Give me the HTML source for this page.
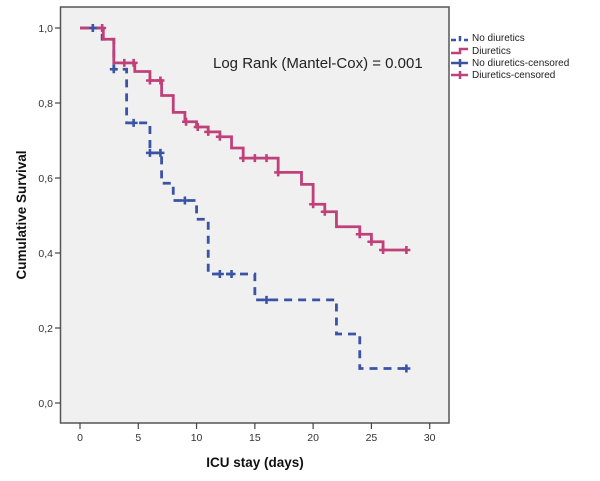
<!DOCTYPE html>
<html><head><meta charset="utf-8"><style>
body{margin:0;background:#fff;font-family:"Liberation Sans",Arial,sans-serif}
svg{display:block}
</style></head><body>
<svg id="chart" width="600" height="481" xmlns="http://www.w3.org/2000/svg">
<rect x="60.5" y="7" width="388.5" height="416" fill="#f0f0f0" stroke="#555" stroke-width="1.5"/>
<g id="axes"></g>
<g id="series"></g>
<text x="255" y="467" font-size="13.5" font-weight="bold" text-anchor="middle" fill="#111">ICU stay (days)</text>
<text transform="translate(26,215) rotate(-90)" font-size="13.5" font-weight="bold" text-anchor="middle" fill="#111">Cumulative Survival</text>
<text x="213" y="68" font-size="15" fill="#222">Log Rank (Mantel-Cox) = 0.001</text>
<g>
 <g>
  <path d="M451 40h6 M460 36v4h8" stroke="#3a53a4" stroke-width="2.5" fill="none" stroke-dasharray="5 3"/>
  <text x="472" y="41" font-size="10" fill="#222">No diuretics</text></g>
 <g>
  <path d="M451 53h9v-4h8" stroke="#c0407a" stroke-width="2.5" fill="none"/>
  <text x="472" y="54" font-size="10" fill="#222">Diuretics</text></g>
 <g>
  <path d="M451 63h17 M460 59v8" stroke="#3a53a4" stroke-width="2.5" fill="none"/>
  <text x="472" y="66" font-size="10" fill="#222">No diuretics-censored</text></g>
 <g>
  <path d="M451 75h17 M460 71v8" stroke="#c0407a" stroke-width="2.5" fill="none"/>
  <text x="472" y="78" font-size="10" fill="#222">Diuretics-censored</text></g>
</g>
</svg>
<script>
const xTicks=[0,5,10,15,20,25,30];
const yTicks=[0,0.2,0.4,0.6,0.8,1.0];
const yTickLabels=["0,0","0,2","0,4","0,6","0,8","1,0"];
const diurTimes=[0,2,2.9,4.7,6,7,8,9,10,11,12,13,14,17,19,20,21,22,24,25,26,28];
const diurSurv=[1.0,0.97,0.907,0.884,0.86,0.82,0.775,0.75,0.736,0.723,0.71,0.68,0.653,0.615,0.583,0.53,0.51,0.47,0.45,0.43,0.408,0.408];
const diurCensor=[1.9,3.8,4.6,6.0,6.9,9.1,10.1,11,12,14,15,16,17,20,21,24,25,26,28];
const noTimes=[0,1.9,2.9,4,6,7,8,10,11,15,22,24,28];
const noSurv=[1.0,0.97,0.89,0.747,0.667,0.586,0.54,0.49,0.344,0.275,0.184,0.092,0.092];
const noCensor=[1.1,2.9,4.6,6.0,6.9,9,12,13,16,28];
const X=d=>80+d*(349.7/30), Y=v=>403-v*375;
const NS="http://www.w3.org/2000/svg";
function mk(tag,attrs,parent){const e=document.createElementNS(NS,tag);for(const k in attrs)e.setAttribute(k,attrs[k]);parent.appendChild(e);return e;}
const axes=document.getElementById('axes'), series=document.getElementById('series');
xTicks.forEach(t=>{
 const l=mk('line',{x1:X(t),x2:X(t),y1:423,y2:429,stroke:'#444','stroke-width':1.2},axes);
 
 
 const tx=mk('text',{x:X(t),y:441,'font-size':10.5,'text-anchor':'middle',fill:'#333'},axes);
 tx.textContent=t;
 
 
});
yTicks.forEach((t,i)=>{
 const l=mk('line',{x1:55,x2:60.5,y1:Y(t),y2:Y(t),stroke:'#444','stroke-width':1.2},axes);
 
 
 const tx=mk('text',{x:53,y:Y(t)+4,'font-size':10.5,'text-anchor':'end',fill:'#333'},axes);
 tx.textContent=yTickLabels[i];
 
 
});
function stepPath(ts,ss){let d='M'+X(ts[0])+' '+Y(ss[0]);for(let i=1;i<ts.length;i++){d+=' H'+X(ts[i])+' V'+Y(ss[i]);}return d;}
function survAt(ts,ss,t){let v=ss[0];for(let i=0;i<ts.length;i++){if(ts[i]<=t)v=ss[i];}return v;}
const pNo=mk('path',{d:stepPath(noTimes,noSurv),stroke:'#3a53a4','stroke-width':2.8,fill:'none','stroke-dasharray':'8 6'},series);


const pD=mk('path',{d:stepPath(diurTimes,diurSurv),stroke:'#c0407a','stroke-width':2.8,fill:'none'},series);


function censor(t,ts,ss,col,name){const x=X(t),y=Y(survAt(ts,ss,t));
 const c=mk('path',{d:`M${x-4} ${y}h8 M${x} ${y-4}v8`,stroke:col,'stroke-width':2.6,fill:'none'},series);
 
 }
noCensor.forEach(t=>censor(t,noTimes,noSurv,'#3a53a4','no-diuretics-censor-mark'));
diurCensor.forEach(t=>censor(t,diurTimes,diurSurv,'#c0407a','diuretics-censor-mark'));
</script>
</body></html>
